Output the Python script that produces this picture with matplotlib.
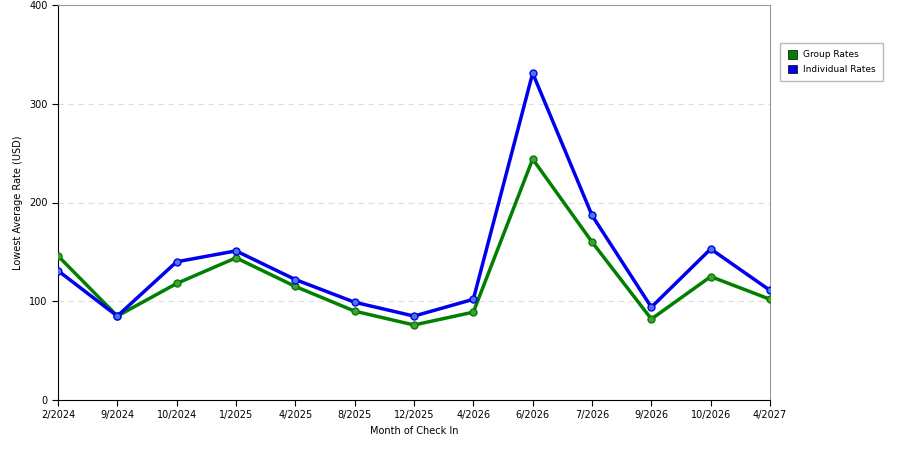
import matplotlib.pyplot as plt
from matplotlib.patches import Patch

months = ['2/2024', '9/2024', '10/2024', '1/2025', '4/2025', '8/2025', '12/2025',
          '4/2026', '6/2026', '7/2026', '9/2026', '10/2026', '4/2027']
group_rates = [146, 85, 118, 144, 115, 90, 76, 89, 244, 160, 82, 125, 102]
individual_rates = [131, 85, 140, 151, 122, 99, 85, 102, 331, 187, 94, 153, 111]

fig = plt.figure(figsize=(9, 4.5), dpi=100)
ax = fig.add_axes([0.0644, 0.111, 0.7912, 0.878])

x = range(len(months))
ax.plot(x, group_rates, color='#008000', lw=2.5, marker='o', ms=5,
        mfc='#4a9a3a', mec='#008000', zorder=3)
ax.plot(x, individual_rates, color='#0000ee', lw=2.5, marker='o', ms=5,
        mfc='#4a78e0', mec='#0000ee', zorder=3)

ax.set_xlim(0, len(months) - 1)
ax.set_ylim(0, 400)
ax.set_xticks(list(x))
ax.set_xticklabels(months)
ax.set_yticks([0, 100, 200, 300, 400])
ax.tick_params(labelsize=7, length=4)
ax.yaxis.grid(True, ls=(0, (5, 4)), color='#dddddd', lw=0.8)
ax.set_axisbelow(True)
for side in ['top', 'right']:
    ax.spines[side].set_color('#999999')
ax.set_xlabel('Month of Check In', fontsize=7)
ax.set_ylabel('Lowest Average Rate (USD)', fontsize=7)

handles = [Patch(facecolor='#008000', edgecolor='black', lw=0.5, label='Group Rates'),
           Patch(facecolor='#0000ee', edgecolor='black', lw=0.5, label='Individual Rates')]
fig.legend(handles=handles, loc='upper left', bbox_to_anchor=(0.862, 0.915),
           fontsize=6.5, frameon=True, fancybox=False, edgecolor='#aaaaaa',
           handlelength=1.1, handleheight=1.1, handletextpad=0.6,
           borderpad=0.8, labelspacing=0.6)

fig.savefig('out.png', dpi=100)
